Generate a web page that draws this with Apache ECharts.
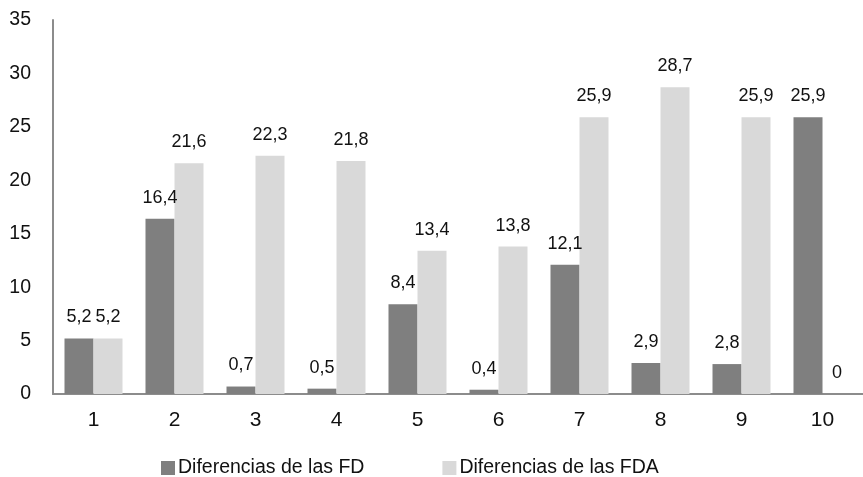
<!DOCTYPE html>
<html>
<head>
<meta charset="utf-8">
<script src="https://cdn.jsdelivr.net/npm/echarts@6/dist/echarts.min.js"></script>
<style>
html,body{margin:0;padding:0;background:#fff;}
#chart{width:863px;height:477px;}
</style>
</head>
<body>
<div id="chart"></div>
<script>
const categories = ['1','2','3','4','5','6','7','8','9','10'];
const seriesNames = ['Diferencias de las FD','Diferencias de las FDA'];
const fdValues = [5.2, 16.4, 0.7, 0.5, 8.4, 0.4, 12.1, 2.9, 2.8, 25.9];
const fdaValues = [5.2, 21.6, 22.3, 21.8, 13.4, 13.8, 25.9, 28.7, 25.9, 0];
const yTicks = [0, 5, 10, 15, 20, 25, 30, 35];

const font = 'Liberation Sans, Arial, sans-serif';
const fmt = p => String(p.value).replace('.', ',');

const chart = echarts.init(document.getElementById('chart'), null, {renderer: 'canvas'});
chart.setOption({
  animation: false,
  backgroundColor: '#ffffff',
  textStyle: {fontFamily: font, color: '#000'},
  grid: {left: 53, right: -11, top: 20, bottom: 83, containLabel: false},
  legend: {
    left: 156, top: 453,
    itemWidth: 14, itemHeight: 14, itemGap: 78,
    icon: 'rect',
    textStyle: {fontFamily: font, fontSize: 19.5, color: '#111', padding: [0,0,0,-2]},
    data: seriesNames
  },
  xAxis: {
    type: 'category',
    data: categories,
    axisLine: {lineStyle: {color: '#8c8c8c', width: 2}},
    axisTick: {show: false},
    axisLabel: {fontFamily: font, fontSize: 21, color: '#111', margin: 16}
  },
  yAxis: {
    type: 'value',
    min: yTicks[0], max: yTicks[yTicks.length-1], interval: 5,
    axisLine: {show: true, lineStyle: {color: '#8c8c8c', width: 2}},
    axisTick: {show: false},
    splitLine: {show: false},
    axisLabel: {fontFamily: font, fontSize: 19.5, color: '#111', margin: 22}
  },
  series: [
    {
      name: seriesNames[0], type: 'bar', data: fdValues,
      barWidth: 29, barGap: '0%',
      itemStyle: {color: '#7f7f7f'},
      label: {show: true, position: 'top', distance: 12, formatter: fmt,
              fontFamily: font, fontSize: 18, color: '#111'}
    },
    {
      name: seriesNames[1], type: 'bar', data: fdaValues,
      barWidth: 29, barGap: '0%',
      itemStyle: {color: '#d9d9d9'},
      label: {show: true, position: 'top', distance: 12, formatter: fmt,
              fontFamily: font, fontSize: 18, color: '#111'}
    }
  ]
});
</script>
</body>
</html>
